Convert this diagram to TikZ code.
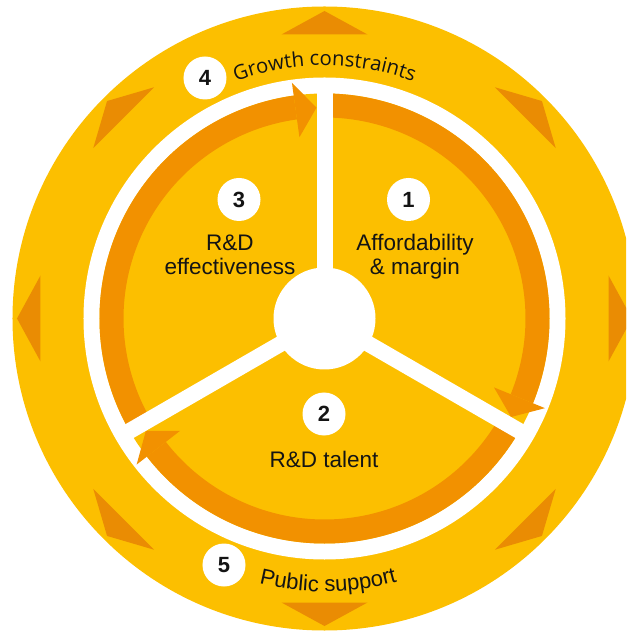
\documentclass[tikz,border=0pt]{standalone}
\usepackage{fontspec}
\setmainfont{Liberation Sans}
\newfontfamily\humanist{Open Sans}
\usetikzlibrary{decorations.text}
\definecolor{ringyellow}{RGB}{252,191,0}
\definecolor{flowtone}{RGB}{242,145,0}
\definecolor{marktone}{RGB}{234,140,3}
\definecolor{inktone}{RGB}{20,20,20}

\newcommand\wheellabelfont{\fontsize{22.5}{24}\selectfont}
\newcommand\toparcfont{\humanist\fontsize{20.3}{20.3}\selectfont}
\newcommand\bottomarcfont{\fontsize{22}{22}\selectfont}

\begin{document}
\begin{tikzpicture}[x=1pt,y=1pt,
  badge/.style={circle, fill=white, minimum size=43pt, inner sep=0pt,
                font=\bfseries\fontsize{22}{22}\selectfont, text=inktone},
  caption/.style={anchor=base, font=\wheellabelfont, text=inktone, inner sep=0pt},
  spoke/.style={white, line width=16pt},
  flow/.style={fill=flowtone},
  marker/.style={fill=marktone}]
\useasboundingbox (-324.5,-312.5) rectangle (301.5,318.5);
\clip (-324.5,-312.5) rectangle (301.5,318.5);

% outer band with its eight outward markers
\fill[ringyellow] (0,0) circle[radius=312];
\foreach \a in {0,45,...,315}
  \fill[marker, rotate=\a] (284,-43) -- (307.5,0) -- (284,43) -- cycle;

% white ring and inner disc
\fill[white] (0,0) circle[radius=241];
\fill[ringyellow] (0,0) circle[radius=225];

% three clockwise flow arrows, each ending at the next spoke
\foreach \s/\e in {90/-30, -30/-150, 210/90} {
  \pgfmathsetmacro\tip{\e+2.17}
  \pgfmathsetmacro\base{\e+7.87}
  \fill[flow] (\s:225) arc[start angle=\s, end angle=\base, radius=225]
     -- (\base:201) arc[start angle=\base, end angle=\s, radius=201] -- cycle;
  \fill[flow] (\base:183) -- (\tip:211) -- (\base:238) -- cycle;
}

% spokes and hub
\foreach \a in {90,-30,210}
  \draw[spoke] (0,0) -- (\a:233);
\fill[white] (0,0) circle[radius=51];

% numbered badges
\node[badge] (b1) at (84,119) {1};
\node[badge] (b2) at (-0.5,-95.5) {2};
\node[badge] (b3) at (-85.5,119) {3};
\node[badge] (b4) at (-119.5,240.5) {4};
\node[badge] (b5) at (-100.5,-246.5) {5};

% sector captions
\node[caption] (c1a) at (90.5,67.5) {Affordability};
\node[caption] (c1b) at (90.5,43.5) {\& margin};
\node[caption] (c3a) at (-94.5,67.5) {R\&D};
\node[caption] (c3b) at (-94.5,43.5) {effectiveness};
\node[caption] (c2) at (-0.5,-148.5) {R\&D talent};

% curved captions in the outer band
\path[decorate, decoration={text along path, text align=center, text color=inktone,
      text={|\toparcfont|Growth constraints}}]
  (135:253) arc[start angle=135, end angle=45, radius=253];
\path[decorate, decoration={text along path, text align=center, text color=inktone,
      text={|\bottomarcfont|Public support}}]
  (230:273) arc[start angle=230, end angle=311.6, radius=273];
\end{tikzpicture}
\end{document}
